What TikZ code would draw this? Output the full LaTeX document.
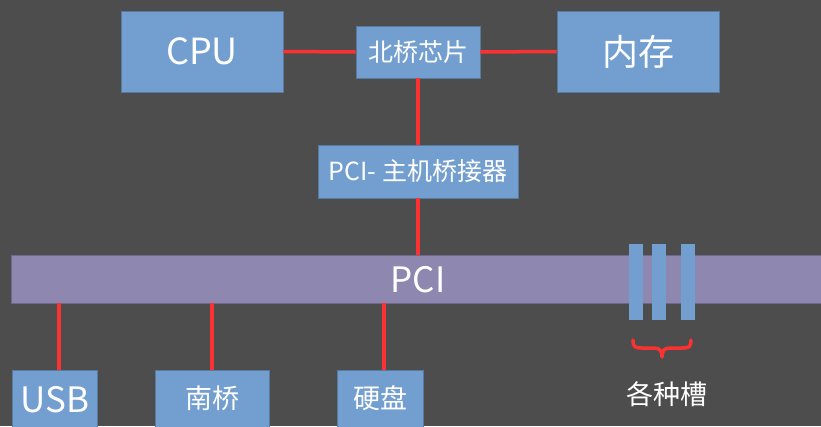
\documentclass[tikz,border=0pt]{standalone}
\usepackage{fontspec}
\setmainfont{Noto Sans CJK SC}
\definecolor{bgc}{RGB}{77,77,77}
\definecolor{boxc}{RGB}{114,159,207}
\definecolor{boxb}{RGB}{88,122,160}
\definecolor{busc}{RGB}{142,135,176}
\definecolor{busb}{RGB}{110,104,140}
\definecolor{wire}{RGB}{250,50,50}
\tikzset{
  box/.style={draw=boxb, line width=0.8pt, fill=boxc, text=white, inner sep=0pt},
  bus/.style={draw=busb, line width=0.8pt, fill=busc, text=white, inner sep=0pt},
  slot/.style={fill=boxc, draw=none, inner sep=0pt, minimum width=14pt, minimum height=76pt},
  wireline/.style={draw=wire, line width=3.5pt},
  bracec/.style={draw=wire, line width=3.5pt, line cap=round, line join=round}
}
\begin{document}
\begin{tikzpicture}[x=1pt,y=-1pt]
\useasboundingbox (0,0) rectangle (821,426);
\clip (0,0) rectangle (821,426);
\fill[bgc] (0,0) rectangle (821,426);
% top row
\node[box, minimum width=162pt, minimum height=81pt, font=\fontsize{36}{38}\selectfont] (cpu) at (202,51.5) {CPU};
\node[box, minimum width=124pt, minimum height=52pt, font=\fontsize{25}{27}\selectfont] (nb) at (418,52) {北桥芯片};
\node[box, minimum width=162pt, minimum height=81pt, font=\fontsize{36}{38}\selectfont] (mem) at (638,51.5) {内存};
\node[box, minimum width=200pt, minimum height=53pt, font=\fontsize{25}{27}\selectfont] (pcib) at (418,171.5) {PCI- 主机桥接器};
% bus
\node[bus, minimum width=830pt, minimum height=48pt] (bar) at (426,279) {};
\node[text=white, font=\fontsize{35}{37}\selectfont] (barlabel) at (418,280) {PCI};
% slots
\node[slot] (s1) at (635.5,282) {};
\node[slot] (s2) at (659,282) {};
\node[slot] (s3) at (688,282) {};
% bottom boxes
\node[box, minimum width=85pt, minimum height=70pt, anchor=north] (usb) at (54.5,370) {};
\node[text=white, font=\fontsize{35}{37}\selectfont] (usbl) at (55,400) {USB};
\node[box, minimum width=114pt, minimum height=70pt, anchor=north] (sb) at (212,370) {};
\node[text=white, font=\fontsize{27}{29}\selectfont] (sbl) at (212,398) {南桥};
\node[box, minimum width=86pt, minimum height=70pt, anchor=north] (hd) at (380,370) {};
\node[text=white, font=\fontsize{27}{29}\selectfont] (hdl) at (380,398) {硬盘};
% wires
\draw[wireline] (cpu.east) -- (nb.west);
\draw[wireline] (nb.east) -- (mem.west);
\draw[wireline] (nb.south) -- (pcib.north);
\draw[wireline] (pcib.south) -- (pcib.south |- bar.north);
\coordinate (u) at (59,0);
\coordinate (n) at (212,0);
\coordinate (h) at (384,0);
\draw[wireline] (bar.south -| u) -- (usb.north -| u);
\draw[wireline] (bar.south -| n) -- (sb.north -| n);
\draw[wireline] (bar.south -| h) -- (hd.north -| h);
% brace
\draw[bracec] (633,340) .. controls (633,347) and (635,348) .. (642,348) -- (654,348) .. controls (660,348) and (662,351) .. (662,357)
  .. controls (662,351) and (664,348) .. (670,348) -- (682,348) .. controls (689,348) and (691,347) .. (691,340);
\node[text=white, font=\fontsize{27}{29}\selectfont] (slotl) at (667,394) {各种槽};
\end{tikzpicture}
\end{document}
